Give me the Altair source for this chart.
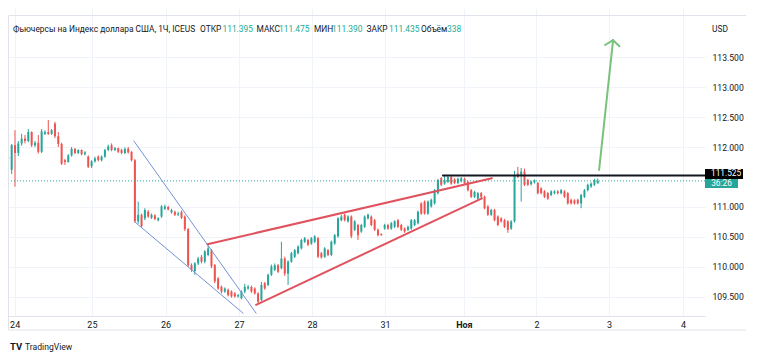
import altair as alt
import pandas as pd

# ---------------- data ----------------
open_ = [111.81, 111.62, 112.03, 111.90, 112.06, 112.14, 112.10, 112.25, 112.03, 112.07,
         111.92, 112.22, 112.25, 112.22, 112.39, 112.18, 112.05, 111.78, 111.75, 111.86,
         111.97, 111.90, 111.95, 111.88, 111.84, 111.68, 111.76, 111.84, 111.78, 111.84,
         111.95, 112.03, 111.95, 111.98, 111.95, 111.90, 111.97, 111.92, 111.78, 110.76,
         110.87, 110.81, 110.92, 110.82, 110.86, 110.78, 110.84, 110.97, 111.00, 110.91,
         110.92, 110.87, 110.92, 110.84, 110.63, 110.03, 109.93, 110.06, 110.17, 110.09,
         110.20, 110.28, 110.03, 109.81, 109.67, 109.59, 109.62, 109.59, 109.56, 109.51,
         109.48, 109.59, 109.64, 109.67, 109.64, 109.56, 109.45, 109.73, 109.70, 109.87,
         109.95, 110.03, 109.98, 110.14, 109.89, 110.09, 110.17, 110.23, 110.31, 110.42,
         110.45, 110.39, 110.42, 110.48, 110.23, 110.17, 110.28, 110.20, 110.39, 110.51,
         110.78, 110.87, 110.76, 110.84, 110.62, 110.70, 110.59, 110.67, 110.81, 110.84,
         110.78, 110.62, 110.55, 110.64, 110.70, 110.64, 110.67, 110.78, 110.70, 110.64,
         110.62, 110.64, 110.70, 110.73, 111.06, 111.09, 110.89, 111.01, 111.06, 111.23,
         111.48, 111.39, 111.42, 111.50, 111.46, 111.40, 111.43, 111.47, 111.42, 111.28,
         111.17, 111.14, 111.23, 111.17, 111.01, 110.87, 110.95, 110.84, 110.81, 110.78,
         110.76, 110.64, 110.76, 111.56, 111.53, 111.59, 111.45, 111.38, 111.41, 111.40,
         111.31, 111.26, 111.23, 111.20, 111.23, 111.26, 111.23, 111.26, 111.23, 111.12,
         111.11, 111.12, 111.06, 111.17, 111.28, 111.34, 111.37, 111.395]
high = [111.98, 112.05, 112.28, 112.10, 112.22, 112.20, 112.30, 112.26, 112.10, 112.20,
        112.30, 112.28, 112.45, 112.30, 112.42, 112.25, 112.07, 111.80, 111.88, 112.00,
        111.98, 111.96, 111.96, 111.93, 111.86, 111.78, 111.84, 111.86, 111.86, 111.97,
        112.04, 112.06, 112.00, 111.99, 111.97, 111.99, 112.00, 111.93, 111.80, 111.09,
        110.89, 110.98, 110.95, 110.89, 110.88, 110.83, 111.03, 111.04, 111.02, 110.97,
        110.94, 110.92, 110.94, 110.86, 110.65, 110.06, 110.08, 110.17, 110.20, 110.28,
        110.36, 110.30, 110.05, 109.83, 109.69, 109.66, 109.64, 109.61, 109.58, 109.55,
        109.61, 109.72, 109.70, 109.69, 109.66, 109.58, 109.75, 109.75, 109.89, 110.04,
        110.06, 110.05, 110.42, 110.17, 110.11, 110.25, 110.30, 110.36, 110.47, 110.50,
        110.47, 110.50, 110.53, 110.50, 110.25, 110.33, 110.30, 110.44, 110.55, 110.83,
        110.87, 110.89, 110.86, 110.86, 110.78, 110.72, 110.72, 110.86, 110.89, 110.86,
        110.80, 110.64, 110.56, 110.72, 110.72, 110.75, 110.78, 110.80, 110.72, 110.66,
        110.69, 110.80, 110.80, 110.94, 111.08, 111.11, 111.11, 111.14, 111.30, 111.47,
        111.50, 111.525, 111.525, 111.52, 111.48, 111.49, 111.50, 111.49, 111.44, 111.30,
        111.27, 111.25, 111.25, 111.19, 111.03, 110.97, 110.97, 110.86, 110.83, 110.80,
        110.78, 110.78, 111.60, 111.67, 111.65, 111.64, 111.47, 111.44, 111.46, 111.42,
        111.33, 111.28, 111.25, 111.28, 111.28, 111.28, 111.30, 111.28, 111.25, 111.14,
        111.13, 111.14, 111.22, 111.30, 111.39, 111.41, 111.47, 111.475]
low = [111.78, 111.55, 111.34, 111.85, 112.02, 112.06, 112.08, 112.00, 112.00, 111.89,
       111.90, 112.20, 112.20, 112.20, 112.15, 112.00, 111.70, 111.70, 111.74, 111.84,
       111.88, 111.88, 111.86, 111.86, 111.65, 111.65, 111.74, 111.76, 111.76, 111.82,
       111.93, 111.93, 111.93, 111.90, 111.88, 111.88, 111.89, 111.76, 110.74, 110.72,
       110.66, 110.78, 110.82, 110.80, 110.78, 110.76, 110.82, 110.95, 110.94, 110.89,
       110.85, 110.85, 110.80, 110.60, 110.00, 109.92, 109.87, 110.03, 110.06, 110.06,
       110.18, 109.98, 109.73, 109.62, 109.56, 109.57, 109.51, 109.49, 109.49, 109.49,
       109.46, 109.56, 109.62, 109.57, 109.54, 109.39, 109.43, 109.62, 109.68, 109.85,
       109.93, 109.90, 109.96, 109.85, 109.70, 110.07, 110.15, 110.21, 110.29, 110.40,
       110.35, 110.37, 110.40, 110.15, 110.14, 110.15, 110.18, 110.18, 110.37, 110.49,
       110.76, 110.76, 110.74, 110.48, 110.60, 110.45, 110.57, 110.65, 110.79, 110.68,
       110.60, 110.51, 110.52, 110.62, 110.62, 110.62, 110.65, 110.65, 110.60, 110.57,
       110.60, 110.62, 110.68, 110.71, 110.87, 110.87, 110.87, 110.99, 111.04, 111.21,
       111.35, 111.37, 111.40, 111.37, 111.38, 111.38, 111.41, 111.37, 111.26, 111.15,
       111.15, 111.12, 111.15, 110.96, 110.85, 110.85, 110.76, 110.68, 110.74, 110.65,
       110.57, 110.62, 110.74, 111.48, 111.09, 111.35, 111.35, 111.36, 111.39, 111.21,
       111.21, 111.15, 111.12, 111.18, 111.21, 111.21, 111.21, 111.15, 111.04, 111.04,
       111.04, 111.04, 110.98, 111.15, 111.26, 111.32, 111.35, 111.390]
close = [111.83, 112.03, 111.90, 112.06, 112.14, 112.10, 112.25, 112.03, 112.07, 111.92,
         112.26, 112.25, 112.22, 112.28, 112.18, 112.05, 111.72, 111.75, 111.86, 111.97,
         111.90, 111.95, 111.88, 111.91, 111.67, 111.76, 111.81, 111.78, 111.84, 111.95,
         112.01, 111.95, 111.98, 111.92, 111.90, 111.97, 111.91, 111.78, 110.76, 110.87,
         110.68, 110.95, 110.84, 110.87, 110.80, 110.81, 111.01, 111.01, 110.96, 110.95,
         110.87, 110.89, 110.82, 110.63, 110.03, 109.95, 110.06, 110.14, 110.09, 110.26,
         110.31, 110.01, 109.76, 109.64, 109.59, 109.64, 109.53, 109.51, 109.51, 109.53,
         109.59, 109.67, 109.67, 109.59, 109.56, 109.42, 109.70, 109.64, 109.87, 110.01,
         110.03, 109.92, 110.14, 109.89, 110.09, 110.23, 110.28, 110.34, 110.45, 110.48,
         110.37, 110.48, 110.51, 110.17, 110.16, 110.31, 110.20, 110.42, 110.53, 110.81,
         110.84, 110.78, 110.84, 110.51, 110.76, 110.53, 110.70, 110.84, 110.87, 110.70,
         110.62, 110.53, 110.53, 110.70, 110.64, 110.73, 110.76, 110.67, 110.62, 110.59,
         110.67, 110.78, 110.78, 110.92, 110.89, 110.89, 111.09, 111.12, 111.28, 111.45,
         111.37, 111.45, 111.50, 111.39, 111.40, 111.47, 111.48, 111.39, 111.28, 111.17,
         111.25, 111.23, 111.17, 110.98, 110.87, 110.95, 110.78, 110.70, 110.76, 110.67,
         110.62, 110.76, 111.53, 111.50, 111.59, 111.37, 111.37, 111.42, 111.44, 111.23,
         111.23, 111.17, 111.14, 111.26, 111.26, 111.23, 111.28, 111.17, 111.06, 111.06,
         111.06, 111.06, 111.20, 111.28, 111.37, 111.39, 111.45, 111.435]

tick_pos = [1.9, 25.1, 47.2, 69.3, 91.2, 113.1, 136.8, 158.6, 180.4, 202.6]
tick_lab = ["24", "25", "26", "27", "28", "31", "Ноя", "2", "3", "4"]
price_ticks = [109.5, 110.0, 110.5, 111.0, 112.0, 112.5, 113.0, 113.5]

last_price = 111.435
level_price = 111.525
countdown = "36:26"

# drawings (x in bar index, y in price)
blue_x1 = [37.7, 38.0]
blue_y1 = [112.10, 110.75]
blue_x2 = [74.4, 70.5]
blue_y2 = [109.23, 109.23]

red_x1 = [59.8, 74.4]
red_y1 = [110.38, 109.37]
red_x2 = [145.2, 142.2]
red_y2 = [111.48, 111.145]

level_x1 = 130.5

arrow_x1 = [177.4, 179.2, 181.6]
arrow_y1 = [111.617, 113.70, 113.78]
arrow_x2 = [181.6, 181.6, 183.5]
arrow_y2 = [113.78, 113.78, 113.68]

header_parts = ["Фьючерсы на Индекс доллара США, 1Ч, ICEUS", "ОТКР", "111.395", "МАКС", "111.475",
                "МИН", "111.390", "ЗАКР", "111.435", "Объём", "338"]
header_kind = ["l", "l", "v", "l", "v", "l", "v", "l", "v", "l", "v"]
header_px = [13, 200, 222.5, 256.5, 279, 314, 332, 366.5, 389, 421, 447]

# ---------------- layout ----------------
W, H = 697, 308
XD = [-0.1, 209.2]
YD = [109.183, 114.317]
FONT = "Roboto"
GREEN = "#26a69a"
RED = "#ef5350"
TXT = "#131722"

df = pd.DataFrame({"i": list(range(len(close))), "o": open_, "h": high, "l": low, "c": close})
df["h"] = df[["h", "o", "c"]].max(axis=1)
df["l"] = df[["l", "o", "c"]].min(axis=1)
df["dir"] = ["up" if c >= o else "down" for o, c in zip(df["o"], df["c"])]

label_expr = ""
for p, lab in zip(tick_pos, tick_lab):
    label_expr += f"abs(datum.value - {p}) < 0.6 ? '{lab}' : "
label_expr += "''"

xs = alt.Scale(domain=XD, nice=False, zero=False, padding=0)
ys = alt.Scale(domain=YD, nice=False, zero=False, padding=0)
col = alt.Color("dir:N", scale=alt.Scale(domain=["up", "down"], range=[GREEN, RED]), legend=None)

xaxis = alt.Axis(values=tick_pos, labelExpr=label_expr, title=None, grid=True, gridColor="#f0f3fa",
                 tickSize=0, labelPadding=4, domainColor="#e0e3eb", labelColor=TXT, labelFontSize=9,
                 labelFont=FONT, labelFlush=False,
                 labelFontWeight={"condition": {"test": "abs(datum.value - 136.8) < 0.6", "value": "bold"},
                                  "value": "normal"})
yaxis = alt.Axis(values=price_ticks, format=".3f", orient="right", title=None, grid=True,
                 gridColor="#f0f3fa", tickSize=0, labelPadding=7, domain=False, labelColor=TXT,
                 labelFontSize=8.6, labelFont=FONT)

base = alt.Chart(df)
wicks = base.mark_rule(strokeWidth=1).encode(
    x=alt.X("i:Q", scale=xs, axis=xaxis),
    y=alt.Y("l:Q", scale=ys, axis=yaxis),
    y2="h:Q",
    color=col,
)
bodies = base.mark_bar(size=2).encode(x="i:Q", y="o:Q", y2="c:Q", color=col)

last_line = alt.Chart(pd.DataFrame({"y": [last_price]})).mark_rule(
    color=GREEN, strokeDash=[1, 2], strokeWidth=1).encode(y="y:Q")


def segs(x1, y1, x2, y2, color, width):
    d = pd.DataFrame({"x1": x1, "y1": y1, "x2": x2, "y2": y2})
    return alt.Chart(d).mark_rule(color=color, strokeWidth=width, strokeCap="round").encode(
        x="x1:Q", y="y1:Q", x2="x2:Q", y2="y2:Q")


blue = segs(blue_x1, blue_y1, blue_x2, blue_y2, "#7592d6", 1)
red = segs(red_x1, red_y1, red_x2, red_y2, "#e0525d", 2)
level = segs([level_x1], [level_price], [XD[1]], [level_price], "#131722", 2)
arrow = segs(arrow_x1, arrow_y1, arrow_x2, arrow_y2, "#79c27b", 2)

one = pd.DataFrame({"a": [0]})
texts = []
for t, k, px in zip(header_parts, header_kind, header_px):
    texts.append(alt.Chart(one).mark_text(
        text=t, align="left", baseline="middle", font=FONT, fontSize=8.4,
        color=(TXT if k == "l" else "#22ab94")).encode(x=alt.value(px - 8), y=alt.value(21)))

usd = alt.Chart(one).mark_text(text="USD", align="left", baseline="middle", font=FONT, fontSize=8.4,
                               color=TXT).encode(x=alt.value(704), y=alt.value(21))

green_box = alt.Chart(one).mark_rect(color=GREEN).encode(
    x=alt.value(697), x2=alt.value(730), y=alt.value(170), y2=alt.value(180))
green_txt = alt.Chart(one).mark_text(text=countdown, align="center", baseline="middle", font=FONT,
                                     fontSize=8.3, color="white").encode(x=alt.value(713.5), y=alt.value(175.5))
black_box = alt.Chart(one).mark_rect(color="#000000").encode(
    x=alt.value(697), x2=alt.value(735), y=alt.value(161), y2=alt.value(171))
black_txt = alt.Chart(one).mark_text(text=f"{level_price:.3f}", align="left", baseline="middle",
                                     font=FONT, fontSize=8.3, color="white").encode(
    x=alt.value(703), y=alt.value(166))

frame = alt.Chart(one).mark_rule(color="#e0e3eb", strokeWidth=1).encode(
    x=alt.value(0.5), x2=alt.value(0.5), y=alt.value(7.5), y2=alt.value(322))
frame_b = alt.Chart(one).mark_rule(color="#e0e3eb", strokeWidth=1).encode(
    x=alt.value(0.5), x2=alt.value(738), y=alt.value(322), y2=alt.value(322))
frame_t = alt.Chart(one).mark_rule(color="#e0e3eb", strokeWidth=1).encode(
    x=alt.value(0.5), x2=alt.value(738), y=alt.value(7.5), y2=alt.value(7.5))

logo = alt.Chart(one).mark_text(text="TV", align="left", baseline="middle", font=FONT, fontSize=9.5,
                                fontWeight="bold", color=TXT).encode(x=alt.value(2), y=alt.value(339))
brand = alt.Chart(one).mark_text(text="TradingView", align="left", baseline="middle", font=FONT,
                                 fontSize=8.6, color=TXT).encode(x=alt.value(17), y=alt.value(339))

chart = alt.layer(
    wicks, bodies, last_line, blue, red, level, arrow, *texts, usd,
    green_box, green_txt, black_box, black_txt, frame, frame_b, frame_t, logo, brand
).properties(
    width=W, height=H,
    autosize=alt.AutoSizeParams(type="none"),
    padding={"left": 0, "top": 0, "right": 42, "bottom": 36},
    background="white",
).configure_view(stroke=None)

chart.save("out.html", embed_options={"renderer": "svg", "actions": False})
